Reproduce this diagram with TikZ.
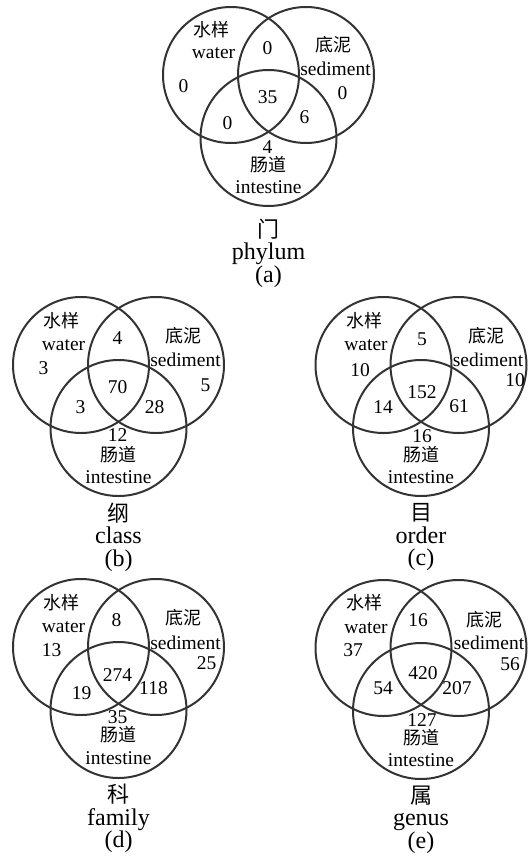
\documentclass[tikz,border=0pt]{standalone}
\usepackage{fontspec}
\setmainfont{Liberation Serif}
\newfontfamily\cjk{Noto Sans CJK SC}
\usepackage{tikz}
\usetikzlibrary{positioning}

\begin{document}
\begin{tikzpicture}[x=1pt, y=-1pt,
    ring/.style={line width=2pt, draw=black!80},
    num/.style={font=\fontsize{19.5}{20}\selectfont, inner sep=0pt},
    zh/.style={font=\cjk\fontsize{18}{20}\selectfont, inner sep=0pt},
    caption/.style={font=\fontsize{24}{22.5}\selectfont, align=center, inner sep=0pt}]
    \useasboundingbox (0,0) rectangle (528,857);

    % (a) phylum
    \begin{scope}[shift={(268.5,75)}]
        \draw[ring] (-37.5,0) circle[radius=68pt];
        \draw[ring] (37.5,0) circle[radius=68pt];
        \draw[ring] (0,63) circle[radius=68pt];
        \node[zh] (wza) at (-57,-45) {水样};
        \node[num] (wena) at (-55,-22) {water};
        \node[zh] (sza) at (65,-30) {底泥};
        \node[num] (sena) at (67,-6) {sediment};
        \node[zh] (iza) at (0,90) {肠道};
        \node[num] (iena) at (0,112) {intestine};
        \node[num] (wsa) at (-1,-27) {0};
        \node[num] (woa) at (-85,11) {0};
        \node[num] (soa) at (74,18) {0};
        \node[num] (alla) at (-1,22) {35};
        \node[num] (wia) at (-41,48) {0};
        \node[num] (sia) at (36,42) {6};
        \node[num] (ioa) at (-1,72) {4};
        \node[caption] (capa) at (0,178) {{\cjk\fontsize{22}{22.5}\selectfont 门}\\phylum\\(a)};
    \end{scope}

    % (b) class
    \begin{scope}[shift={(118.5,365)}]
        \draw[ring] (-37.5,0) circle[radius=68pt];
        \draw[ring] (37.5,0) circle[radius=68pt];
        \draw[ring] (0,63) circle[radius=68pt];
        \node[zh] (wzb) at (-57,-44) {水样};
        \node[num] (wenb) at (-55,-20) {water};
        \node[zh] (szb) at (65,-29) {底泥};
        \node[num] (senb) at (67,-5) {sediment};
        \node[zh] (izb) at (0,90) {肠道};
        \node[num] (ienb) at (0,112) {intestine};
        \node[num] (wsb) at (-1,-27) {4};
        \node[num] (wob) at (-75,3) {3};
        \node[num] (sob) at (87,20) {5};
        \node[num] (allb) at (-1,22) {70};
        \node[num] (wib) at (-38,42) {3};
        \node[num] (sib) at (36,42) {28};
        \node[num] (iob) at (-1,70) {12};
        \node[caption] (capb) at (0,172) {{\cjk\fontsize{22}{22.5}\selectfont 纲}\\class\\(b)};
    \end{scope}

    % (c) order
    \begin{scope}[shift={(421,365)}]
        \draw[ring] (-37.5,0) circle[radius=68pt];
        \draw[ring] (37.5,0) circle[radius=68pt];
        \draw[ring] (0,63) circle[radius=68pt];
        \node[zh] (wzc) at (-57,-44) {水样};
        \node[num] (wenc) at (-55,-20) {water};
        \node[zh] (szc) at (65,-29) {底泥};
        \node[num] (senc) at (67,-5) {sediment};
        \node[zh] (izc) at (0,90) {肠道};
        \node[num] (ienc) at (0,112) {intestine};
        \node[num] (wsc) at (1,-26) {5};
        \node[num] (woc) at (-61,5) {10};
        \node[num] (soc) at (94,15) {10};
        \node[num] (allc) at (1,27) {152};
        \node[num] (wic) at (-38,42) {14};
        \node[num] (sic) at (38,41) {61};
        \node[num] (ioc) at (1,71) {16};
        \node[caption] (capc) at (0,172) {{\cjk\fontsize{22}{22.5}\selectfont 目}\\order\\(c)};
    \end{scope}

    % (d) family
    \begin{scope}[shift={(118.5,647)}]
        \draw[ring] (-37.5,0) circle[radius=68pt];
        \draw[ring] (37.5,0) circle[radius=68pt];
        \draw[ring] (0,63) circle[radius=68pt];
        \node[zh] (wzd) at (-57,-44) {水样};
        \node[num] (wend) at (-55,-20) {water};
        \node[zh] (szd) at (65,-29) {底泥};
        \node[num] (send) at (67,-4) {sediment};
        \node[zh] (izd) at (0,88) {肠道};
        \node[num] (iend) at (0,111) {intestine};
        \node[num] (wsd) at (-2,-27) {8};
        \node[num] (wod) at (-67,3) {13};
        \node[num] (sod) at (88,16) {25};
        \node[num] (alld) at (-1,28) {274};
        \node[num] (wid) at (-37,46) {19};
        \node[num] (sid) at (35,41) {118};
        \node[num] (iod) at (-1,70) {35};
        \node[caption] (capd) at (0,171.5) {{\cjk\fontsize{22}{22.5}\selectfont 科}\\family\\(d)};
    \end{scope}

    % (e) genus
    \begin{scope}[shift={(421,648)}]
        \draw[ring] (-37.5,0) circle[radius=68pt];
        \draw[ring] (37.5,0) circle[radius=68pt];
        \draw[ring] (0,63) circle[radius=68pt];
        \node[zh] (wze) at (-57,-45) {水样};
        \node[num] (wene) at (-55,-20) {water};
        \node[zh] (sze) at (63,-28) {底泥};
        \node[num] (sene) at (68,-5) {sediment};
        \node[zh] (ize) at (0,90) {肠道};
        \node[num] (iene) at (0,112) {intestine};
        \node[num] (wse) at (-3,-28) {16};
        \node[num] (woe) at (-68,2) {37};
        \node[num] (soe) at (89,16) {56};
        \node[num] (alle) at (2,25) {420};
        \node[num] (wie) at (-38,40) {54};
        \node[num] (sie) at (36,40) {207};
        \node[num] (ioe) at (1,72) {127};
        \node[caption] (cape) at (0,171.5) {{\cjk\fontsize{22}{22.5}\selectfont 属}\\genus\\(e)};
    \end{scope}
\end{tikzpicture}
\end{document}
